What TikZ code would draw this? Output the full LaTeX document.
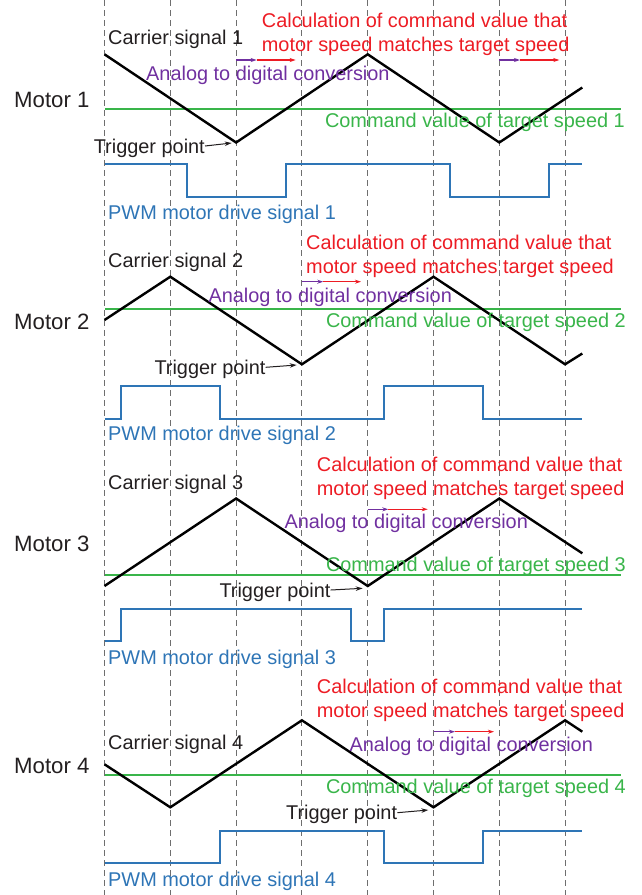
\documentclass[tikz,border=0pt]{standalone}
\usepackage{fontspec}
\setmainfont{Liberation Sans}
\usetikzlibrary{arrows.meta}
\definecolor{calcred}{RGB}{237,28,36}
\definecolor{adcpurple}{RGB}{112,48,160}
\definecolor{cmdgreen}{RGB}{57,181,74}
\definecolor{pwmblue}{RGB}{46,117,182}
\definecolor{txtblack}{RGB}{35,31,32}
\definecolor{gridgray}{RGB}{110,110,110}
\tikzset{
  lbl/.style={inner sep=0pt, text height=14.2pt, text depth=0pt,
    font=\fontsize{19.9}{24}\selectfont},
  motorlbl/.style={inner sep=0pt, text height=16pt, text depth=0pt,
    font=\fontsize{22.2}{26}\selectfont, text=txtblack},
  carrier/.style={line width=2.4pt, draw=black, line join=miter},
  cmdband/.style={fill=cmdgreen, draw=none},
  pwm/.style={line width=1.9pt, draw=pwmblue},
  grid/.style={draw=gridgray, line width=0.9pt, dash pattern=on 6pt off 4pt},
  trig/.style={line width=1pt, draw=txtblack, -{Stealth[length=7pt,width=4.5pt]}},
  adcarrow/.style={line width=1.2pt, draw=adcpurple, fill=adcpurple, -{Stealth[length=6pt,width=4pt]}},
  calcarrow/.style={line width=1.2pt, draw=calcred, fill=calcred, -{Stealth[length=6pt,width=4pt]}}
}
% command-value level: a 2pt filled band from x=104.5 to x=621, top edge at #1
\newcommand{\cmdlevel}[1]{\path[cmdband] (104.5,#1) rectangle (621,{#1+2});}
\begin{document}
\begin{tikzpicture}[x=1pt,y=-1pt]
\useasboundingbox (0,0) rectangle (642,895);

% timing grid
\foreach \k in {0,...,7}
  \draw[grid] ({104.5+65.8*\k},0) -- ({104.5+65.8*\k},895);

% ---------------- Motor 1 ----------------
\node[motorlbl, anchor=west] (m1) at (14,99) {Motor 1};
\cmdlevel{108}
\draw[carrier] (104.5,54.3) -- (236.1,142.5) -- (367.7,54.3) -- (499.3,142.5) -- (582.3,87.5);
\draw[pwm] (104.5,164.3) -| (186.7,197) -| (285.7,164.3) -| (450,197) -| (548.7,164.3) -- (582.3,164.3);
\node[lbl, anchor=west, text=txtblack] (c1) at (108,37) {Carrier signal 1};
\node[lbl, anchor=west, text=calcred] (r1a) at (261.7,20) {Calculation of command value that};
\node[lbl, anchor=west, text=calcred] (r1b) at (261.7,44.3) {motor speed matches target speed};
\node[lbl, anchor=west, text=adcpurple] (a1) at (146,73.3) {Analog to digital conversion};
\node[lbl, anchor=east, text=cmdgreen] (g1) at (625,120.5) {Command value of target speed 1};
\node[lbl, anchor=east, text=txtblack] (t1) at (205,146) {Trigger point};
\coordinate (tp1) at (231.7,143);
\draw[trig] (t1.east) -- (tp1);
\node[lbl, anchor=west, text=pwmblue] (p1) at (108,212) {PWM motor drive signal 1};
\coordinate (s1a) at (236.1,60); \coordinate (s1b) at (256.7,60); \coordinate (s1c) at (295.7,60);
\draw[adcarrow] (s1a) -- (s1b);
\draw[calcarrow] (s1b) -- (s1c);
\coordinate (s1d) at (499.3,60); \coordinate (s1e) at (520,60); \coordinate (s1f) at (559.3,60);
\draw[adcarrow] (s1d) -- (s1e);
\draw[calcarrow] (s1e) -- (s1f);

% ---------------- Motor 2 ----------------
\node[motorlbl, anchor=west] (m2) at (14,321.7) {Motor 2};
\cmdlevel{308}
\draw[carrier] (104.5,320) -- (170.3,276.7) -- (301.9,364.3) -- (433.5,276.7) -- (565.1,364.3) -- (582.3,353.5);
\draw[pwm] (104.5,418.7) -| (121,386) -| (220,418.7) -| (384,386) -| (483,418.7) -- (582.3,418.7);
\node[lbl, anchor=west, text=txtblack] (c2) at (108,260) {Carrier signal 2};
\node[lbl, anchor=west, text=calcred] (r2a) at (306,242.3) {Calculation of command value that};
\node[lbl, anchor=west, text=calcred] (r2b) at (306,266) {motor speed matches target speed};
\node[lbl, anchor=west, text=adcpurple] (a2) at (208.3,295) {Analog to digital conversion};
\node[lbl, anchor=east, text=cmdgreen] (g2) at (626,320.5) {Command value of target speed 2};
\node[lbl, anchor=east, text=txtblack] (t2) at (265.7,367.3) {Trigger point};
\coordinate (tp2) at (296.7,365);
\draw[trig] (t2.east) -- (tp2);
\node[lbl, anchor=west, text=pwmblue] (p2) at (108,433.5) {PWM motor drive signal 2};
\coordinate (s2a) at (301.9,281.7); \coordinate (s2b) at (323.3,281.7); \coordinate (s2c) at (361,281.7);
\draw[adcarrow] (s2a) -- (s2b);
\draw[calcarrow] (s2b) -- (s2c);

% ---------------- Motor 3 ----------------
\node[motorlbl, anchor=west] (m3) at (14,543) {Motor 3};
\cmdlevel{574}
\draw[carrier] (104.5,586) -- (236.1,498.5) -- (367.7,586) -- (499.3,498.5) -- (582.3,553.3);
\draw[pwm] (104.5,641.3) -| (121,608.7) -| (351,641.3) -| (384,608.7) -- (582.3,608.7);
\node[lbl, anchor=west, text=txtblack] (c3) at (108,482) {Carrier signal 3};
\node[lbl, anchor=west, text=calcred] (r3a) at (316.7,464) {Calculation of command value that};
\node[lbl, anchor=west, text=calcred] (r3b) at (316.7,488.3) {motor speed matches target speed};
\node[lbl, anchor=west, text=adcpurple] (a3) at (284.3,521.7) {Analog to digital conversion};
\node[lbl, anchor=east, text=cmdgreen] (g3) at (626,564.5) {Command value of target speed 3};
\node[lbl, anchor=east, text=txtblack] (t3) at (330.7,590) {Trigger point};
\coordinate (tp3) at (362.7,588.3);
\draw[trig] (t3.east) -- (tp3);
\node[lbl, anchor=west, text=pwmblue] (p3) at (108,657) {PWM motor drive signal 3};
\coordinate (s3a) at (367.7,509.3); \coordinate (s3b) at (388.3,509.3); \coordinate (s3c) at (427.7,509.3);
\draw[adcarrow] (s3a) -- (s3b);
\draw[calcarrow] (s3b) -- (s3c);

% ---------------- Motor 4 ----------------
\node[motorlbl, anchor=west] (m4) at (14,765) {Motor 4};
\cmdlevel{774}
\draw[carrier] (104.5,764.3) -- (170.3,807.3) -- (301.9,720.3) -- (433.5,807.3) -- (565.1,720.3) -- (582.3,731.7);
\draw[pwm] (104.5,862.7) -| (220,830.7) -| (384,862.7) -| (483,830.7) -- (582.3,830.7);
\node[lbl, anchor=west, text=txtblack] (c4) at (108,742.7) {Carrier signal 4};
\node[lbl, anchor=west, text=calcred] (r4a) at (316.7,686) {Calculation of command value that};
\node[lbl, anchor=west, text=calcred] (r4b) at (316.7,710.7) {motor speed matches target speed};
\node[lbl, anchor=west, text=adcpurple] (a4) at (349.3,744) {Analog to digital conversion};
\node[lbl, anchor=east, text=cmdgreen] (g4) at (626,786.7) {Command value of target speed 4};
\node[lbl, anchor=east, text=txtblack] (t4) at (397.3,812.7) {Trigger point};
\coordinate (tp4) at (428.3,810);
\draw[trig] (t4.east) -- (tp4);
\node[lbl, anchor=west, text=pwmblue] (p4) at (108,879.3) {PWM motor drive signal 4};
\coordinate (s4a) at (433.5,731.7); \coordinate (s4b) at (455,731.7); \coordinate (s4c) at (494,731.7);
\draw[adcarrow] (s4a) -- (s4b);
\draw[calcarrow] (s4b) -- (s4c);
\end{tikzpicture}
\end{document}
